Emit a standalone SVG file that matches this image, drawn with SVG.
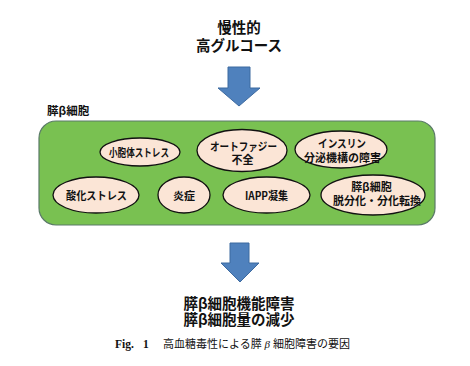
<svg xmlns="http://www.w3.org/2000/svg" width="470" height="366" viewBox="0 0 470 366">
<style>
.t{font-family:"Noto Sans CJK JP","Noto Sans",sans-serif;font-weight:bold;fill:#111;text-anchor:middle}
.big{font-size:14.5px}
.e{font-size:11px}
.ell{fill:#fbe5d6;stroke:#111;stroke-width:1.3}
.arr{fill:#4f81bd;stroke:#3d6aa0;stroke-width:1}
.cap{font-family:"Liberation Serif","Noto Sans CJK JP",serif;font-size:11px;fill:#111}
</style>
<rect width="470" height="366" fill="#fff"/>
<g id="top-label">
<text class="t big" x="239" y="33">慢性的</text>
<text class="t big" x="239" y="51">高グルコース</text>
</g>
<g id="connectors">
<path class="arr" d="M228,67 H250 V88 H260 L239,106 L218,88 H228 Z"/>
<path class="arr" d="M230,243 H249 V263 H259 L240,282 L221,263 H230 Z"/>
</g>
<g id="beta-cell">
<text class="t" style="font-size:11.5px;text-anchor:start" x="47" y="115">膵β細胞</text>
<rect x="39" y="121" width="396" height="104" rx="17" fill="#79c151" stroke="#5a7a68" stroke-width="1.2"/>
</g>
<g id="n1"><ellipse class="ell" cx="140" cy="152" rx="40" ry="14"/><text class="t e" x="139" y="156.5" textLength="60" lengthAdjust="spacingAndGlyphs">小胞体ストレス</text></g>
<g id="n2"><ellipse class="ell" cx="242" cy="150.5" rx="45" ry="21"/><text class="t e" x="243.5" y="150.5" textLength="67" lengthAdjust="spacingAndGlyphs">オートファジー</text><text class="t e" x="242.5" y="164">不全</text></g>
<g id="n3"><ellipse class="ell" cx="341" cy="149.5" rx="46" ry="18.5"/><text class="t e" x="342" y="147.5" textLength="48" lengthAdjust="spacingAndGlyphs">インスリン</text><text class="t e" x="342.5" y="161.5">分泌機構の障害</text></g>
<g id="n4"><ellipse class="ell" cx="96" cy="195" rx="43" ry="18"/><text class="t e" x="96.5" y="199.5" textLength="61" lengthAdjust="spacingAndGlyphs">酸化ストレス</text></g>
<g id="n5"><ellipse class="ell" cx="184" cy="195" rx="26" ry="18"/><text class="t e" x="184" y="199.5">炎症</text></g>
<g id="n6"><ellipse class="ell" cx="266.5" cy="195" rx="43.5" ry="18"/><text class="t e" x="266.5" y="199.5" textLength="43" lengthAdjust="spacingAndGlyphs">IAPP凝集</text></g>
<g id="n7"><ellipse class="ell" cx="373" cy="195" rx="52" ry="20"/><text class="t e" x="371.5" y="190.5">膵β細胞</text><text class="t e" x="377" y="204.5">脱分化・分化転換</text></g>
<g id="bottom-label">
<text class="t big" x="239" y="309">膵β細胞機能障害</text>
<text class="t big" x="239" y="325">膵β細胞量の減少</text>
</g>
<g id="caption">
<text class="cap" x="115" y="348"><tspan font-weight="bold" font-size="11.5">Fig.</tspan><tspan x="143" font-weight="bold" font-size="11.5">1</tspan><tspan x="163" textLength="187">高血糖毒性による膵 <tspan font-style="italic">β</tspan> 細胞障害の要因</tspan></text>
</g>
</svg>
